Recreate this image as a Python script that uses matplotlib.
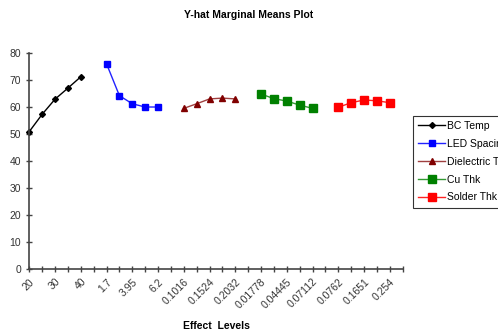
import numpy as np
import matplotlib
matplotlib.use("Agg")
import matplotlib.pyplot as plt

plt.rcParams['font.family'] = ['Liberation Sans', 'DejaVu Sans']

series_names = ['BC Temp', 'LED Spacing', 'Dielectric Thk', 'Cu Thk', 'Solder Thk']
bc_temp = [50.9, 57.3, 62.9, 67.0, 71.2]
led_spacing = [76.0, 64.2, 61.2, 60.0, 60.0]
dielectric_thk = [59.5, 61.2, 63.0, 63.3, 63.0]
cu_thk = [64.8, 63.1, 62.2, 60.7, 59.5]
solder_thk = [59.9, 61.6, 62.6, 62.3, 61.6]

# level labels shown under every other category slot
level_labels = ['20', '30', '40', '1.7', '3.95', '6.2', '0.1016', '0.1524', '0.2032',
                '0.01778', '0.04445', '0.07112', '0.0762', '0.1651', '0.254']

all_series = [bc_temp, led_spacing, dielectric_thk, cu_thk, solder_thk]
styles = [
    dict(color='black', marker='D', ms=3, mfc='black', mec='black', lw=1),
    dict(color='#2222ff', marker='s', ms=4, mfc='#0000ff', mec='#0000ff', lw=1),
    dict(color='#a04040', marker='^', ms=4.5, mfc='#800000', mec='#800000', lw=1),
    dict(color='#339933', marker='s', ms=6, mfc='#008000', mec='#008000', lw=1),
    dict(color='#ff2222', marker='s', ms=6, mfc='#ff0000', mec='#ff0000', lw=1),
]

fig = plt.figure(figsize=(4.98, 3.33), dpi=100)
ax = fig.add_axes([0.0588, 0.1922, 0.7498, 0.6486])

pos = 0
for name, vals, st in zip(series_names, all_series, styles):
    x = np.arange(pos, pos + len(vals))
    ax.plot(x, vals, label=name, clip_on=False, **st)
    pos += len(vals) + 1

n_slots = pos
ax.set_xlim(0, n_slots - 1)
ax.set_ylim(0, 80)
ax.set_yticks(range(0, 81, 10))
ax.set_xticks(range(n_slots))
xl = [''] * n_slots
for i, lab in enumerate(level_labels):
    xl[2 * i] = lab
ax.set_xticklabels(xl, rotation=45, ha='right', rotation_mode='anchor')

for s in ['top', 'right']:
    ax.spines[s].set_visible(False)
for s in ['left', 'bottom']:
    ax.spines[s].set_color('#444444')
    ax.spines[s].set_linewidth(1.2)
ax.tick_params(axis='both', direction='inout', length=5, width=1, color='#444444',
               labelsize=7.5, labelcolor='#333333')
ax.tick_params(axis='x', pad=3)

fig.text(0.5, 0.955, 'Y-hat Marginal Means Plot', ha='center', va='center',
         fontsize=7.5, fontweight='bold')
fig.text(0.434, 0.02, 'Effect  Levels', ha='center', va='center',
         fontsize=7.5, fontweight='bold')

leg = fig.legend(loc='upper left', bbox_to_anchor=(0.829, 0.652), fontsize=7.5,
                 frameon=True, fancybox=False, edgecolor='black', borderpad=0.5,
                 handlelength=2.6, handletextpad=0.2, labelspacing=0.75, borderaxespad=0)
leg.get_frame().set_linewidth(0.8)

fig.savefig('out.png', dpi=100)
